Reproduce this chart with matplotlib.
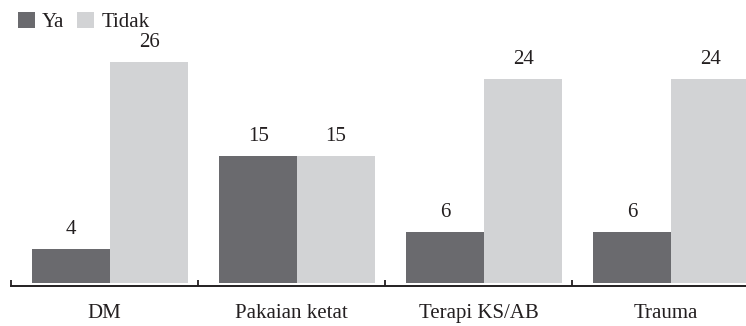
import matplotlib
matplotlib.use("Agg")
import matplotlib.pyplot as plt
import numpy as np
from matplotlib.patches import Patch

plt.rcParams['font.family'] = ['Liberation Serif', 'DejaVu Serif']

categories = ["DM", "Pakaian ketat", "Terapi KS/AB", "Trauma"]
ya = [4, 15, 6, 6]
tidak = [26, 15, 24, 24]
series_names = ["Ya", "Tidak"]

DARK = "#6a6a6e"
LIGHT = "#d2d3d5"
INK = "#231f20"
FS = 15

W, H = 746, 326
fig = plt.figure(figsize=(W / 100, H / 100), dpi=100)
ax = fig.add_axes([11 / W, 43 / H, 735 / W, 283 / H])

x = np.arange(len(categories))
bw = 0.417
shift = 0.03
b1 = ax.bar(x + shift - bw / 2, ya, bw, color=DARK, label=series_names[0])
b2 = ax.bar(x + shift + bw / 2, tidak, bw, color=LIGHT, label=series_names[1])

for bars, vals in ((b1, ya), (b2, tidak)):
    for rect, v in zip(bars, vals):
        ax.annotate(f"{v}", (rect.get_x() + rect.get_width() / 2, v),
                    xytext=(0, 10.5), textcoords="offset points",
                    ha="center", va="baseline", fontsize=FS, color=INK)

for s in ("top", "right", "left"):
    ax.spines[s].set_visible(False)
ax.spines["bottom"].set_position(("outward", 1.8))
ax.spines["bottom"].set_color(INK)
ax.spines["bottom"].set_linewidth(1.4)
ax.set_yticks([])

ax.set_xticks(x)
ax.set_xticklabels(categories, fontsize=FS, color=INK)
ax.tick_params(axis="x", which="major", length=0, pad=23.4)
for lbl in ax.get_xticklabels():
    lbl.set_va("baseline")
ax.set_xticks(np.arange(len(categories) + 1) - 0.5, minor=True)
ax.tick_params(axis="x", which="minor", direction="in", length=4.5,
               width=1.3, color=INK)

# limits last, so the boundary ticks do not widen the view
ax.set_xlim(-0.5, -0.5 + 735 / 187)
ax.set_ylim(0, 283 / 8.5)

handles = [Patch(facecolor=DARK), Patch(facecolor=LIGHT)]
fig.legend(handles, series_names, loc="upper left",
           bbox_to_anchor=(18 / W, 1 - 12 / H), ncol=2, frameon=False,
           fontsize=FS, handlelength=0.82, handleheight=0.82,
           handletextpad=0.34, columnspacing=0.6, borderpad=0,
           borderaxespad=0, labelcolor=INK)

fig.savefig("out.png", dpi=100)
